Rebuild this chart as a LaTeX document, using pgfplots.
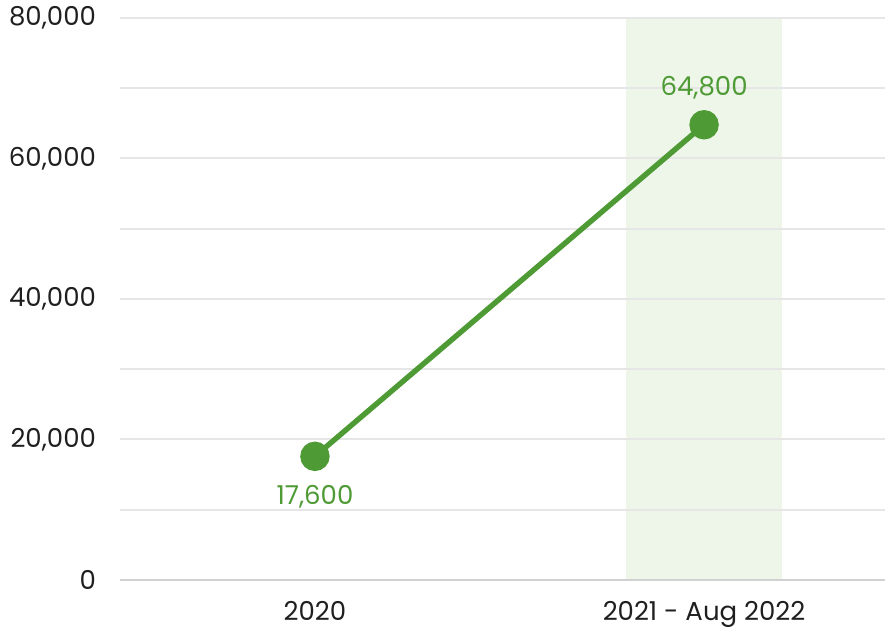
\documentclass[border=0pt]{standalone}
\usepackage{pgfplots}
\pgfplotsset{compat=1.18}
\usepackage{pgfplotstable}
\usepackage{fontspec}
\setmainfont{Poppins}
\definecolor{lgreen}{HTML}{4E9A35}
\definecolor{band}{HTML}{EEF6EA}
\definecolor{gridc}{HTML}{E6E6E6}

\pgfplotstableread{
x y dy
0 17600 -20
1 64800 18.5
}\growth

\begin{document}
\fontsize{13}{15}\selectfont
\begin{tikzpicture}
\begin{axis}[
    set layers,
    scale only axis,
    width=382.5pt,
    height=281pt,
    xmin=-0.501, xmax=1.465,
    ymin=0, ymax=80000,
    xtick={0,1},
    xticklabels={2020, 2021 - Aug 2022},
    ytick={0,20000,40000,60000,80000},
    minor ytick={10000,30000,50000,70000},
    ymajorgrids, yminorgrids,
    major grid style={gridc, line width=1pt},
    minor grid style={gridc, line width=1pt},
    axis y line*=left,
    y axis line style={draw=none},
    axis x line*=bottom,
    x axis line style={draw=black!18, line width=1pt, -},
    major tick length=0pt,
    minor tick length=0pt,
    tick label style={font=\fontsize{13}{15}\selectfont, text=black!88},
    yticklabel style={xshift=-7.5pt},
    xticklabel style={yshift=-6pt},
    scaled y ticks=false,
    /pgf/number format/.cd, 1000 sep={,}, fixed, assume math mode=true,
    /pgfplots/.cd,
    clip=false,
]
\begin{pgfonlayer}{axis background}
\fill[band] (axis cs:0.8,0) rectangle (axis cs:1.2,80000);
\end{pgfonlayer}
\addplot[lgreen, line width=2.7pt, mark=*, mark size=6pt,
    mark options={solid, fill=lgreen, draw=none},
    visualization depends on={\thisrow{dy} \as \dy},
    nodes near coords={\pgfmathprintnumber[1000 sep={,}]{\pgfplotspointmeta}},
    point meta=y,
    every node near coord/.append style={anchor=center, yshift=\dy pt,
        text=lgreen, font=\fontsize{13}{15}\selectfont}]
    table[x=x, y=y] {\growth};
\end{axis}
\pgfresetboundingbox
\path[use as bounding box] (current axis.south west) ++(-60pt,-26pt)
    rectangle ([yshift=9pt]current axis.north east);
\end{tikzpicture}
\end{document}
